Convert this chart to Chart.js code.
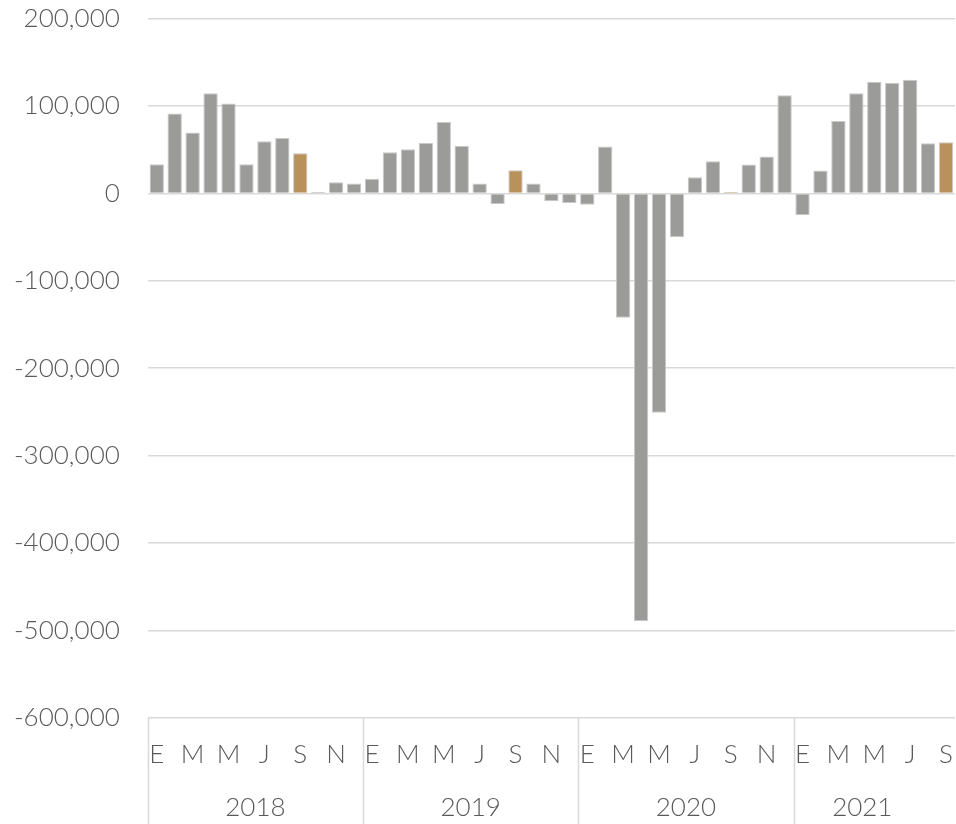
<!DOCTYPE html>
<html>
<head>
<meta charset="utf-8">
<script src="https://cdn.jsdelivr.net/npm/chart.js@4/dist/chart.umd.min.js"></script>
<style>
  html, body { margin: 0; padding: 0; background: #fff; }
  #wrap { width: 956px; height: 824px; }
</style>
</head>
<body>
<div id="wrap"><canvas id="chart"></canvas></div>
<script>
// monthly values, Jan 2018 .. Sep 2021
const years = ['2018', '2019', '2020', '2021'];
const monthLetters = ['E', 'F', 'M', 'A', 'M', 'J', 'J', 'A', 'S', 'O', 'N', 'D'];
const values2018 = [33400, 91300, 69600, 114500, 103000, 33400, 59700, 63500, 46000, 1500, 12900, 11400];
const values2019 = [16700, 47000, 50600, 57800, 81800, 54400, 11400, -12200, 26600, 11400, -9100, -11000];
const values2020 = [-13000, 53600, -142400, -489400, -251000, -50200, 18600, 36900, 1500, 33100, 42200, 112200];
const values2021 = [-25100, 26200, 82900, 114500, 127800, 126700, 130000, 57400, 58600];
const yTicks = [200000, 100000, 0, -100000, -200000, -300000, -400000, -500000, -600000];

const GRAY = '#9b9b9a';
const GOLD = '#b8925a';
const TEXT = '#595959';
const GRID = '#d9d9d9';
const FONT = { family: 'Lato, sans-serif', size: 26, weight: 300 };

const series = [values2018, values2019, values2020, values2021];
const labels = [];
const values = [];
series.forEach(arr => {
    arr.forEach((v, m) => {
        labels.push(monthLetters[m]);
        values.push(v);
    });
});

// year row + separators under the month letters
const yearRow = {
    id: 'yearRow',
    afterDraw(chart) {
        const { ctx, scales: { x } } = chart;
        const half = (x.getPixelForValue(1) - x.getPixelForValue(0)) / 2;
        const top = chart.chartArea.bottom;
        const bottom = chart.height;
        ctx.save();
        ctx.strokeStyle = GRID;
        ctx.lineWidth = 1.5;
        ctx.fillStyle = TEXT;
        ctx.font = '300 26px Lato, sans-serif';
        ctx.textAlign = 'center';
        ctx.textBaseline = 'middle';
        let start = 0;
        years.forEach((yr, i) => {
            const count = series[i].length;
            const left = x.getPixelForValue(start) - half;
            const right = x.getPixelForValue(start + count - 1) + half;
            ctx.beginPath();
            ctx.moveTo(Math.round(left) + 0.5, top);
            ctx.lineTo(Math.round(left) + 0.5, bottom);
            ctx.stroke();
            ctx.fillText(yr, (left + right) / 2 - (i === 3 ? 12 : 0), 808);
            start += count;
        });
        ctx.restore();
    }
};

new Chart(document.getElementById('chart'), {
    type: 'bar',
    data: {
        labels: labels,
        datasets: [{
            data: values,
            backgroundColor: labels.map((l, i) => (i % 12 === 8 ? GOLD : GRAY)),
            borderColor: '#c9c9c9',
            borderWidth: 1,
            categoryPercentage: 1,
            barPercentage: 0.8
        }]
    },
    options: {
        responsive: true,
        maintainAspectRatio: false,
        animation: false,
        layout: { padding: { top: 0, right: 0, bottom: 51, left: 11 } },
        plugins: {
            legend: { display: false },
            tooltip: { enabled: false }
        },
        scales: {
            x: {
                grid: { display: true, drawOnChartArea: false, color: 'transparent', tickLength: 18 },
                border: { display: false },
                ticks: {
                    autoSkip: false,
                    maxRotation: 0,
                    padding: 3,
                    color: TEXT,
                    font: FONT,
                    callback: function(value, index) {
                        return index % 2 === 0 ? labels[index] : '';
                    }
                }
            },
            y: {
                min: -600000,
                max: 200000,
                afterBuildTicks: function(scale) {
                    scale.ticks = yTicks.map(v => ({ value: v }));
                },
                grid: { color: GRID, lineWidth: 1.5, drawTicks: true, tickLength: 25, tickColor: 'transparent' },
                border: { display: false },
                ticks: {
                    padding: 3,
                    color: TEXT,
                    font: FONT,
                    callback: function(value) {
                        return value.toLocaleString('en-US');
                    }
                }
            }
        }
    },
    plugins: [yearRow]
});
</script>
</body>
</html>
